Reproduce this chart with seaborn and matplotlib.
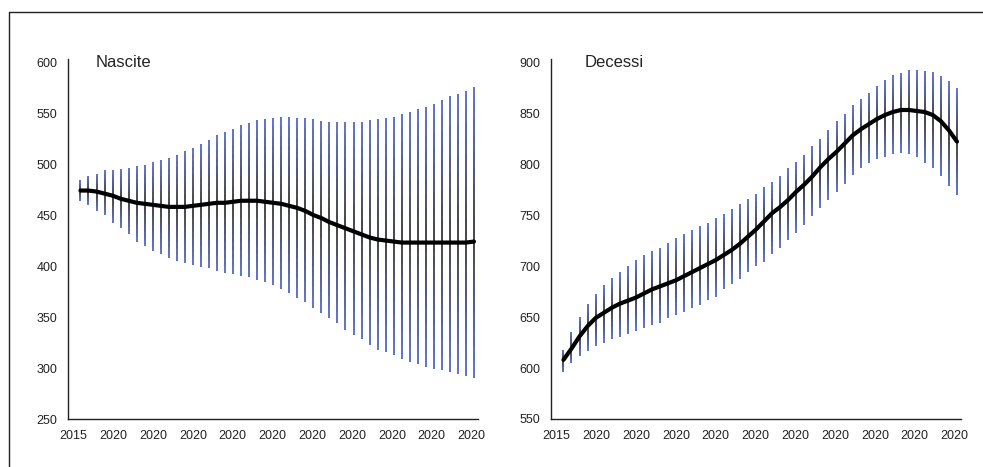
import numpy as np
import pandas as pd
import matplotlib
matplotlib.use("Agg")
import matplotlib.pyplot as plt
from matplotlib.lines import Line2D
from matplotlib.colors import to_rgb
import seaborn as sns

# ---------------- data ----------------
x_tick_labels = ["2015"] + ["2020"] * 10

nascite_title = "Nascite"
nascite_upper = [484, 488, 490, 494, 494, 495, 496, 498, 499, 502, 504, 506, 509, 513, 516, 520, 524, 528, 531, 534,
                 538, 540, 543, 544, 545, 546, 546, 545, 545, 544, 542, 541, 541, 541, 541, 541, 543, 544, 545, 546,
                 549, 551, 554, 556, 559, 563, 567, 569, 572, 576]
nascite_lower = [464, 460, 454, 450, 442, 437, 431, 424, 420, 415, 412, 408, 405, 403, 401, 399, 398, 395, 393, 392,
                 390, 389, 386, 384, 381, 377, 374, 369, 365, 359, 354, 349, 344, 337, 332, 328, 323, 318, 316, 313,
                 309, 306, 304, 301, 299, 298, 296, 294, 292, 290]
nascite_median = [474, 474, 473, 471, 469, 466, 464, 462, 461, 460, 459, 458, 458, 458, 459, 460, 461, 462, 462, 463,
                  464, 464, 464, 463, 462, 461, 459, 457, 454, 450, 447, 443, 440, 437, 434, 431, 428, 426, 425, 424,
                  423, 423, 423, 423, 423, 423, 423, 423, 423, 424]

decessi_title = "Decessi"
decessi_upper = [618, 635, 650, 663, 673, 681, 688, 694, 700, 706, 711, 715, 718, 723, 727, 731, 735, 739, 742, 747,
                 751, 756, 761, 766, 771, 777, 782, 788, 796, 802, 809, 818, 825, 833, 842, 849, 858, 864, 870, 877,
                 882, 887, 889, 892, 892, 891, 890, 886, 881, 875]
decessi_lower = [596, 605, 612, 617, 622, 625, 628, 630, 633, 636, 639, 642, 644, 649, 652, 655, 659, 662, 667, 670,
                 677, 682, 687, 694, 700, 704, 712, 718, 726, 732, 740, 749, 757, 765, 773, 780, 789, 796, 801, 805,
                 807, 810, 811, 810, 807, 801, 796, 788, 778, 770]
decessi_median = [608, 619, 631, 641, 649, 654, 659, 663, 666, 669, 673, 677, 680, 683, 686, 690, 694, 698, 702, 706,
                  711, 716, 722, 729, 736, 744, 752, 758, 765, 773, 780, 788, 797, 805, 812, 820, 828, 834, 839, 844,
                  848, 851, 853, 853, 852, 851, 848, 842, 833, 822]

# ---------------- style ----------------
sns.set_theme(style="white")
plt.rcParams["font.family"] = ["Liberation Sans", "DejaVu Sans"]
TEXT = "#222222"
BLUE = np.array(to_rgb("#3550c0"))
BLACK = np.array(to_rgb("#111111"))

W, H = 983, 467
fig = plt.figure(figsize=(W / 100, H / 100), dpi=100)
fig.patch.set_facecolor("white")


def panel(rect, title, upper, lower, median, ylim, yticks, title_x):
    ax = fig.add_axes(rect)
    n = len(median)
    idx = np.arange(n)
    up = np.asarray(upper, float)
    lo = np.asarray(lower, float)

    # gradient bars: black in the middle, blue at the ends
    K = 18
    xs, y0s, y1s, cols = [], [], [], []
    for i in range(n):
        edges = np.linspace(lo[i], up[i], K + 1)
        for j in range(K):
            t = (j + 0.5) / K
            d = abs(2 * t - 1) ** 1.1
            c = BLACK * (1 - d) + BLUE * d
            xs.append(idx[i]); y0s.append(edges[j]); y1s.append(edges[j + 1]); cols.append(c)
    ax.vlines(xs, y0s, y1s, colors=cols, lw=1.1, zorder=2)

    df = pd.DataFrame({"x": idx, "y": median})
    sns.lineplot(data=df, x="x", y="y", ax=ax, color="black", lw=3.0, zorder=3,
                 solid_capstyle="round", solid_joinstyle="round")

    ax.set_xlim(-1.55, 49.5)
    ax.set_ylim(*ylim)
    ax.set_yticks(yticks)
    ax.set_yticklabels([str(v) for v in yticks])
    ax.set_xticks(np.arange(len(x_tick_labels)) * 4.955 - 0.87)
    ax.set_xticklabels(x_tick_labels)
    ax.tick_params(length=0, labelsize=9, colors=TEXT)
    ax.tick_params(axis="y", pad=7.5)
    ax.tick_params(axis="x", pad=8)
    ax.set_xlabel("")
    ax.set_ylabel("")
    for s in ("top", "right"):
        ax.spines[s].set_visible(False)
    for s in ("left", "bottom"):
        ax.spines[s].set_color("#222222")
        ax.spines[s].set_linewidth(1.0)
    ax.set_facecolor("white")
    ax.text(title_x, 0.989, title, transform=ax.transAxes, ha="left", va="center",
            fontsize=12, color=TEXT)
    return ax


bottom = (H - 419) / H
height = (419 - 59) / H
panel([68 / W, bottom, 410 / W, height], nascite_title, nascite_upper, nascite_lower, nascite_median,
      (250, 603), [250, 300, 350, 400, 450, 500, 550, 600], 0.068)
panel([551 / W, bottom, 410 / W, height], decessi_title, decessi_upper, decessi_lower, decessi_median,
      (550, 903), [550, 600, 650, 700, 750, 800, 850, 900], 0.083)

# outer frame (cropped on right/bottom)
fx = 8.5 / W
fy = 1 - 11.5 / H
fig.add_artist(Line2D([fx, fx], [0, fy], transform=fig.transFigure, color="#222222", lw=1.0))
fig.add_artist(Line2D([fx, 1], [fy, fy], transform=fig.transFigure, color="#222222", lw=1.0))

fig.savefig("out.png", dpi=100, facecolor="white")
